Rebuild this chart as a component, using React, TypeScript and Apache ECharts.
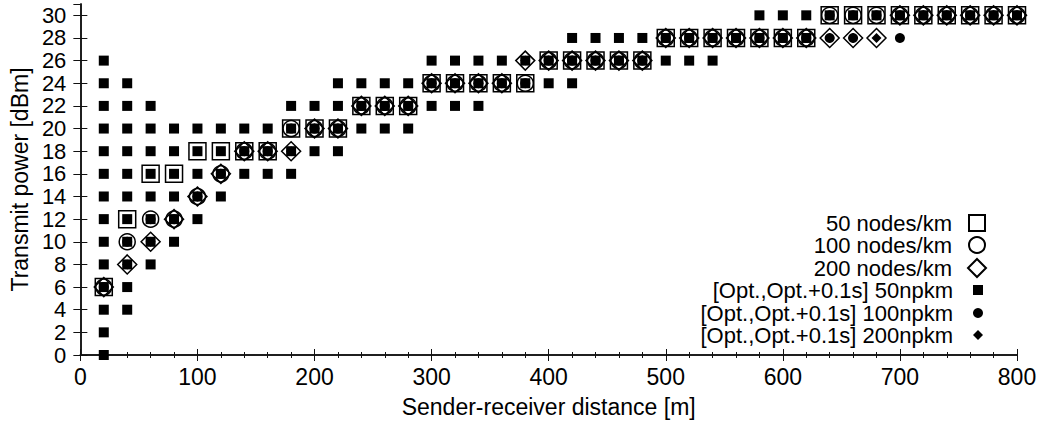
import React, { useEffect, useRef } from "react";
import * as echarts from "echarts";

// Sender-receiver distances [m]
const distances = [
  20, 40, 60, 80, 100, 120, 140, 160, 180, 200,
  220, 240, 260, 280, 300, 320, 340, 360, 380, 400,
  420, 440, 460, 480, 500, 520, 540, 560, 580, 600,
  620, 640, 660, 680, 700, 720, 740, 760, 780, 800,
];

// Optimal transmit power [dBm] per density
const opt50 = [
  6, 12, 16, 16, 18, 18, 18, 18, 20, 20,
  20, 22, 22, 22, 24, 24, 24, 24, 24, 26,
  26, 26, 26, 26, 28, 28, 28, 28, 28, 28,
  28, 30, 30, 30, 30, 30, 30, 30, 30, 30,
];
const opt100 = [
  6, 10, 12, 12, 14, 16, 18, 18, 20, 20,
  20, 22, 22, 22, 24, 24, 24, 24, 24, 26,
  26, 26, 26, 26, 28, 28, 28, 28, 28, 28,
  28, 30, 30, 30, 30, 30, 30, 30, 30, 30,
];
const opt200 = [
  6, 8, 10, 12, 14, 16, 18, 18, 18, 20,
  20, 22, 22, 22, 24, 24, 24, 24, 26, 26,
  26, 26, 26, 26, 28, 28, 28, 28, 28, 28,
  28, 28, 28, 28, 30, 30, 30, 30, 30, 30,
];

// Powers within [Opt., Opt.+0.1s] per distance
const range50 = [
  [0, 2, 4, 6, 8, 10, 12, 14, 16, 18, 20, 22, 24, 26],
  [4, 6, 8, 10, 12, 14, 16, 18, 20, 22, 24],
  [8, 10, 12, 14, 16, 18, 20, 22],
  [10, 12, 14, 16, 18, 20],
  [12, 14, 16, 18, 20],
  [14, 16, 18, 20],
  [16, 18, 20],
  [16, 18, 20],
  [16, 18, 20, 22],
  [18, 20, 22],
  [18, 20, 22, 24],
  [20, 22, 24],
  [20, 22, 24],
  [20, 22, 24],
  [22, 24, 26],
  [22, 24, 26],
  [22, 24, 26],
  [24, 26],
  [24, 26],
  [24, 26],
  [24, 26, 28],
  [26, 28],
  [26, 28],
  [26, 28],
  [26, 28],
  [26, 28],
  [26, 28],
  [28],
  [28, 30],
  [28, 30],
  [28, 30],
  [30], [30], [30], [30], [30], [30], [30], [30], [30],
];
const range100 = [
  [6], [10], [12], [12], [14], [16], [18], [18], [20], [20],
  [20], [22], [22], [22], [24], [24], [24], [24], [24], [26],
  [26], [26], [26], [26], [28], [28], [28], [28], [28], [28],
  [28], [28, 30], [28, 30], [30], [28, 30], [30], [30], [30], [30], [30],
];
const range200 = [
  [6], [8], [10], [12], [14], [16], [18], [18], [18], [20],
  [20], [22], [22], [22], [24], [24], [24], [24], [26], [26],
  [26], [26], [26], [26], [28], [28], [28], [28], [28], [28],
  [28], [28], [28], [28], [30], [30], [30], [30], [30], [30],
];

const seriesNames = [
  "50 nodes/km",
  "100 nodes/km",
  "200 nodes/km",
  "[Opt.,Opt.+0.1s] 50npkm",
  "[Opt.,Opt.+0.1s] 100npkm",
  "[Opt.,Opt.+0.1s] 200npkm",
];

const FONT = "Liberation Sans";
const FS = 23;

function pairs(vals: number[]) {
  return distances.map((d, i) => [d, vals[i]]);
}
function rangePairs(lists: number[][]) {
  const out: number[][] = [];
  distances.forEach((d, i) => lists[i].forEach((p) => out.push([d, p])));
  return out;
}

export default function App() {
  const ref = useRef<HTMLDivElement>(null);
  useEffect(() => {
    if (!ref.current) return;
    const chart = echarts.init(ref.current, null, { renderer: "svg" });
    const openStyle = { color: "rgba(0,0,0,0)", borderColor: "#000", borderWidth: 1.5, opacity: 1 };
    const fillStyle = { color: "#000", opacity: 1 };
    const legendRows = [223, 245, 268, 290, 313, 335];
    const legendIcon = [16, 16, 18, 10, 10, 10];
    const axisLine = { show: true, lineStyle: { color: "#111", width: 1.5 } };
    const textStyle = { fontFamily: FONT, fontSize: FS, color: "#000" };
    const LFS = 22;
    chart.setOption({
      animation: false,
      backgroundColor: "#fff",
      grid: { left: 79, right: 26, top: 4, bottom: 75, containLabel: false },
      xAxis: [
        {
          type: "value",
          min: 0,
          max: 800,
          interval: 100,
          position: "bottom",
          name: "Sender-receiver distance [m]",
          nameLocation: "middle",
          nameGap: 40,
          nameTextStyle: textStyle,
          axisLine,
          axisTick: { show: true, inside: true, length: 6, lineStyle: { color: "#111", width: 1 } },
          minorTick: { show: true, splitNumber: 5, length: 3, lineStyle: { color: "#111", width: 1 } },
          axisLabel: { ...textStyle, margin: 10, showMinLabel: true, hideOverlap: false },
          splitLine: { show: false },
        },
        {
          type: "value",
          min: 0,
          max: 800,
          interval: 100,
          position: "top",
          axisLine,
          axisTick: { show: true, inside: true, length: 6, lineStyle: { color: "#111", width: 1 } },
          minorTick: { show: true, splitNumber: 5, length: 3, lineStyle: { color: "#111", width: 1 } },
          axisLabel: { show: false },
          splitLine: { show: false },
        },
      ],
      yAxis: [
        {
          type: "value",
          min: 0,
          max: 31,
          interval: 2,
          position: "left",
          name: "Transmit power [dBm]",
          nameLocation: "middle",
          nameRotate: 90,
          nameGap: 47,
          nameTextStyle: textStyle,
          axisLine,
          axisTick: { show: true, inside: true, length: 7, lineStyle: { color: "#111", width: 1 } },
          axisLabel: {
            fontFamily: FONT,
            fontSize: 22,
            lineHeight: 19,
            color: "#000",
            margin: 14,
            showMinLabel: true,
            showMaxLabel: false,
            hideOverlap: false,
          },
          splitLine: { show: false },
        },
        {
          type: "value",
          min: 0,
          max: 31,
          interval: 2,
          position: "right",
          axisLine,
          axisTick: { show: true, inside: true, length: 7, lineStyle: { color: "#111", width: 1 } },
          axisLabel: { show: false },
          splitLine: { show: false },
        },
      ],
      legend: seriesNames.map((n, i) => {
        const s = legendIcon[i];
        const iconLeft = 978 - s / 2;
        return {
          data: [n],
          orient: "horizontal",
          align: "right",
          right: 1043 - (978 + s / 2),
          top: legendRows[i] - LFS / 2,
          itemWidth: s,
          itemHeight: s,
          itemGap: 0,
          padding: 0,
          selectedMode: false,
          textStyle: {
            fontFamily: FONT,
            fontSize: LFS,
            lineHeight: 20,
            color: "#000",
            padding: [0, iconLeft - 5 - 953, 0, 0],
          },
        };
      }),
      series: [
        {
          name: seriesNames[0],
          type: "scatter",
          symbol: "rect",
          symbolSize: 17,
          itemStyle: openStyle,
          data: pairs(opt50),
        },
        {
          name: seriesNames[1],
          type: "scatter",
          symbol: "circle",
          symbolSize: 16,
          itemStyle: openStyle,
          data: pairs(opt100),
        },
        {
          name: seriesNames[2],
          type: "scatter",
          symbol: "diamond",
          symbolSize: 19,
          itemStyle: openStyle,
          data: pairs(opt200),
        },
        {
          name: seriesNames[3],
          type: "scatter",
          symbol: "rect",
          symbolSize: 10,
          itemStyle: fillStyle,
          data: rangePairs(range50),
        },
        {
          name: seriesNames[4],
          type: "scatter",
          symbol: "circle",
          symbolSize: 10,
          itemStyle: fillStyle,
          data: rangePairs(range100),
        },
        {
          name: seriesNames[5],
          type: "scatter",
          symbol: "diamond",
          symbolSize: 10,
          itemStyle: fillStyle,
          data: rangePairs(range200),
        },
      ],
    });
    return () => chart.dispose();
  }, []);
  return <div ref={ref} style={{ width: 1043, height: 430, position: "absolute", left: 0, top: 0 }} />;
}
